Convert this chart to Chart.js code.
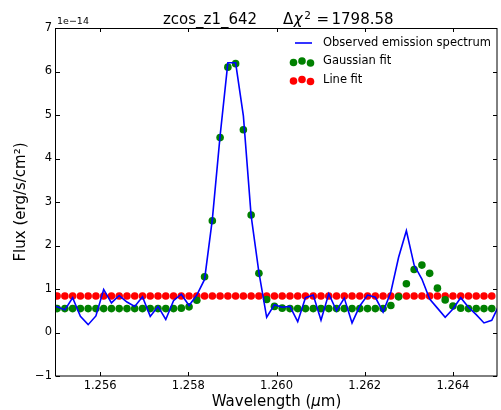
<!DOCTYPE html>
<html><head><meta charset="utf-8">
<script src="https://cdn.jsdelivr.net/npm/chart.js@4.4.0/dist/chart.umd.min.js"></script>
<style>html,body{margin:0;padding:0;background:#fff;overflow:hidden}#wrap{width:501px;height:410px;position:relative}</style>
</head><body><div id="wrap"><canvas id="c" width="501" height="410"></canvas></div>
<script>
// Wavelengths (micron) of the sampled pixels
const wavelengths = [
1.255025,1.255201,1.255377,1.255553,1.255729,1.255905,1.256081,1.256257,1.256433,1.256609,
1.256785,1.256961,1.257137,1.257313,1.257489,1.257665,1.257841,1.258017,1.258193,1.258369,
1.258545,1.258721,1.258897,1.259073,1.259249,1.259425,1.259601,1.259777,1.259953,1.260129,
1.260305,1.260481,1.260657,1.260833,1.261009,1.261185,1.261361,1.261537,1.261713,1.261889,
1.262065,1.262241,1.262417,1.262593,1.262769,1.262945,1.263121,1.263297,1.263473,1.263649,
1.263825,1.264001,1.264177,1.264353,1.264529,1.264705,1.264881];
// Observed spectrum has one extra pixel on each side (clipped by the axes)
const observedWavelengths = [1.254849].concat(wavelengths, [1.265057]);
// Flux in units of 1e-14 erg/s/cm^2
const observedFlux = [
0.64,
0.59,0.52,0.80,0.37,0.18,0.38,0.99,0.68,0.85,0.70,
0.60,0.82,0.37,0.60,0.30,0.73,0.88,0.62,0.86,1.22,
2.60,4.52,6.20,6.20,4.98,2.68,1.38,0.35,0.64,0.58,
0.60,0.25,0.80,0.86,0.28,0.89,0.50,0.79,0.22,0.61,
0.86,0.81,0.47,0.93,1.73,2.34,1.55,1.23,0.77,0.56,
0.35,0.54,0.80,0.58,0.41,0.22,0.28,
0.65];
const gaussianFit = [
0.55,0.55,0.55,0.55,0.55,0.55,0.55,0.55,0.55,0.55,
0.55,0.55,0.55,0.55,0.55,0.55,0.56,0.59,0.74,1.28,
2.57,4.48,6.10,6.18,4.66,2.70,1.36,0.76,0.60,0.56,
0.55,0.55,0.55,0.55,0.55,0.55,0.55,0.55,0.55,0.55,
0.55,0.55,0.55,0.62,0.82,1.12,1.45,1.55,1.36,1.02,
0.75,0.61,0.56,0.55,0.55,0.55,0.55];
const lineFit = [
0.84,0.84,0.84,0.84,0.84,0.84,0.84,0.84,0.84,0.84,
0.84,0.84,0.84,0.84,0.84,0.84,0.84,0.84,0.84,0.84,
0.84,0.84,0.84,0.84,0.84,0.84,0.84,0.84,0.84,0.84,
0.84,0.84,0.84,0.84,0.84,0.84,0.84,0.84,0.84,0.84,
0.84,0.84,0.84,0.84,0.84,0.84,0.84,0.84,0.84,0.84,
0.84,0.84,0.84,0.84,0.84,0.84,0.84];
const xTicks = [1.256, 1.258, 1.260, 1.262, 1.264];
const yTicks = [-1, 0, 1, 2, 3, 4, 5, 6, 7];
const titleName = 'zcos_z1_642';
const deltaChi2 = '1798.58';
const legendLabels = ['Observed emission spectrum', 'Gaussian fit', 'Line fit'];

const FONT = "'DejaVu Sans', sans-serif";
const pts = (xs, ys) => xs.map((x, i) => ({x: x, y: ys[i]}));

const decor = {
  id: 'decor',
  afterDraw(chart) {
    const ctx = chart.ctx, a = chart.chartArea;
    const xs = chart.scales.x, ys = chart.scales.y;
    ctx.save();
    // frame
    ctx.strokeStyle = '#000'; ctx.lineWidth = 1;
    ctx.strokeRect(a.left - 0.5, a.top + 0.5, a.right - a.left + 0.5, a.bottom - a.top - 0.5);
    // inward ticks
    ctx.beginPath();
    xTicks.forEach(v => {
      const p = Math.round(xs.getPixelForValue(v)) + 0.5;
      ctx.moveTo(p, a.bottom); ctx.lineTo(p, a.bottom - 4);
      ctx.moveTo(p, a.top); ctx.lineTo(p, a.top + 4);
    });
    yTicks.forEach(v => {
      const p = Math.round(ys.getPixelForValue(v)) + 0.5;
      ctx.moveTo(a.left, p); ctx.lineTo(a.left + 4, p);
      ctx.moveTo(a.right, p); ctx.lineTo(a.right - 4, p);
    });
    ctx.stroke();
    ctx.fillStyle = '#000';
    // offset text
    ctx.font = '9.5px ' + FONT; ctx.textBaseline = 'alphabetic'; ctx.textAlign = 'left';
    ctx.fillText('1e\u221214', a.left + 1, 24);
    // title
    ctx.font = '15px ' + FONT;
    ctx.fillText(titleName, 163, 24);
    ctx.fillText('\u0394', 283, 24);
    let tx = 283 + ctx.measureText('\u0394').width + 0.5;
    ctx.font = 'italic 15px ' + FONT;
    ctx.fillText('\u03c7', tx, 24);
    tx += ctx.measureText('\u03c7').width + 1.5;
    ctx.font = '10.5px ' + FONT;
    ctx.fillText('2', tx, 19);
    ctx.font = '15px ' + FONT;
    ctx.fillText('=', 316.5, 24);
    ctx.fillText(deltaChi2, 331.5, 24);
    // x label
    ctx.font = '15px ' + FONT;
    const p1 = 'Wavelength (', p3 = 'm)';
    const w1 = ctx.measureText(p1).width, w3 = ctx.measureText(p3).width;
    ctx.font = 'italic 15px ' + FONT;
    const w2 = ctx.measureText('\u03bc').width;
    const cx = (a.left + a.right) / 2;
    let x0 = cx - (w1 + w2 + w3) / 2;
    ctx.textBaseline = 'middle';
    ctx.font = '15px ' + FONT; ctx.fillText(p1, x0, 402);
    ctx.font = 'italic 15px ' + FONT; ctx.fillText('\u03bc', x0 + w1, 402);
    ctx.font = '15px ' + FONT; ctx.fillText(p3, x0 + w1 + w2, 402);
    // y label
    ctx.save();
    ctx.translate(21, (a.top + a.bottom) / 2);
    ctx.rotate(-Math.PI / 2);
    ctx.textAlign = 'center'; ctx.textBaseline = 'middle';
    ctx.font = '15px ' + FONT;
    ctx.fillText('Flux (erg/s/cm\u00b2)', 0, 0);
    ctx.restore();
    // legend
    ctx.font = '11.5px ' + FONT; ctx.textBaseline = 'middle'; ctx.textAlign = 'left';
    const rows = [43, 61.5, 80];
    ctx.strokeStyle = '#0000ff'; ctx.lineWidth = 1.6;
    ctx.beginPath(); ctx.moveTo(295, rows[0]); ctx.lineTo(312, rows[0]); ctx.stroke();
    const dots = (y, col) => {
      ctx.fillStyle = col;
      [[293.5, 1], [302, -0.5], [310.5, 1.5]].forEach(d => {
        ctx.beginPath(); ctx.arc(d[0], y + d[1], 3.8, 0, Math.PI * 2); ctx.fill();
      });
    };
    dots(rows[1], '#008000');
    dots(rows[2], '#ff0000');
    ctx.fillStyle = '#000';
    legendLabels.forEach((t, i) => ctx.fillText(t, 323, rows[i]));
    ctx.restore();
  }
};

new Chart(document.getElementById('c'), {
  type: 'scatter',
  data: {
    datasets: [
      {label: legendLabels[0], data: pts(observedWavelengths, observedFlux), showLine: true,
       borderColor: '#0000ff', borderWidth: 1.6, pointRadius: 0, tension: 0, order: 0, clip: 0},
      {label: legendLabels[1], data: pts(wavelengths, gaussianFit), showLine: false,
       backgroundColor: '#008000', borderWidth: 0, pointRadius: 3.8, order: 1, clip: 0},
      {label: legendLabels[2], data: pts(wavelengths, lineFit), showLine: false,
       backgroundColor: '#ff0000', borderWidth: 0, pointRadius: 3.8, order: 2, clip: 0}
    ]
  },
  options: {
    responsive: false, animation: false, devicePixelRatio: 1,
    layout: {padding: {top: 28, left: 0, right: 0, bottom: 0}},
    plugins: {legend: {display: false}, tooltip: {enabled: false}, title: {display: false}},
    scales: {
      x: {type: 'linear', min: 1.255, max: 1.265,
          grid: {display: false, drawTicks: false}, border: {display: false},
          afterBuildTicks: s => { s.ticks = xTicks.map(v => ({value: v})); },
          afterFit: s => { s.height = 34; },
          ticks: {padding: 3, color: '#000', font: {family: FONT, size: 11.5},
                  callback: v => v.toFixed(3), maxRotation: 0}},
      y: {type: 'linear', min: -1, max: 7,
          grid: {display: false, drawTicks: false}, border: {display: false},
          afterBuildTicks: s => { s.ticks = yTicks.map(v => ({value: v})); },
          afterFit: s => { s.width = 56; },
          ticks: {padding: 4, color: '#000', font: {family: FONT, size: 11.5},
                  callback: v => (v < 0 ? '\u2212' + Math.abs(v) : String(v))}}
    }
  },
  plugins: [decor]
});
</script></body></html>
